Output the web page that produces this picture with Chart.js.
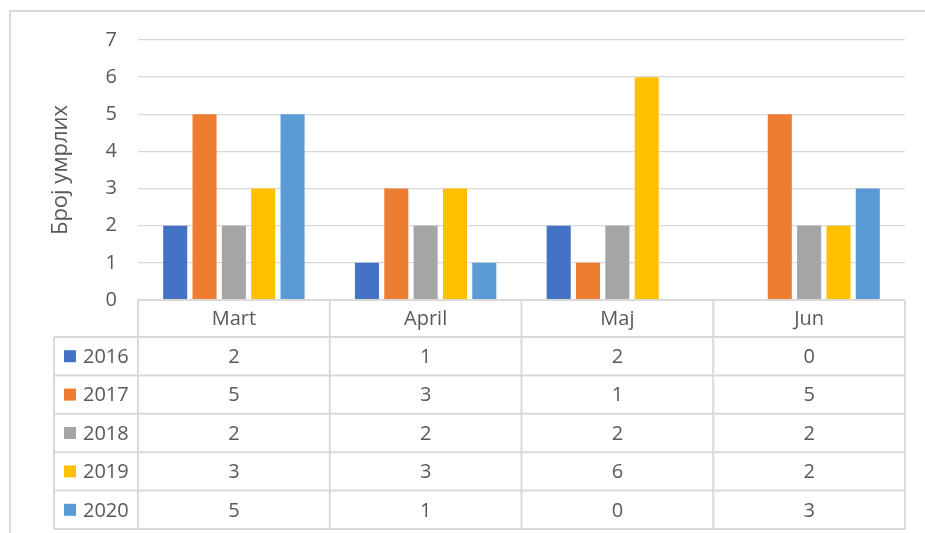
<!DOCTYPE html>
<html>
<head>
<meta charset="utf-8">
<script src="https://cdn.jsdelivr.net/npm/chart.js@4.4.0/dist/chart.umd.min.js"></script>
<style>
  html, body { margin: 0; padding: 0; background: #fff; }
</style>
</head>
<body>
<canvas id="deaths" width="925" height="533"></canvas>
<script>
var months = ["Mart", "April", "Maj", "Jun"];
var years = ["2016", "2017", "2018", "2019", "2020"];
var deaths2016 = [2, 1, 2, 0];
var deaths2017 = [5, 3, 1, 5];
var deaths2018 = [2, 2, 2, 2];
var deaths2019 = [3, 3, 6, 2];
var deaths2020 = [5, 1, 0, 3];
var yearColors = ["#4472C4", "#ED7D31", "#A5A5A5", "#FFC000", "#5B9BD5"];
var yMin = 0, yMax = 7, yStep = 1;
var yTitle = "Број умрлих";

var textColor = "#595959";
var lineColor = "#d9d9d9";
var fontFamily = "'Open Sans', 'Liberation Sans', sans-serif";

var series = [deaths2016, deaths2017, deaths2018, deaths2019, deaths2020];
var datasets = [];
for (let i = 0; i < years.length; i++) {
	datasets.push({
		label: years[i],
		data: series[i],
		backgroundColor: yearColors[i],
		barPercentage: 0.82,
		categoryPercentage: 0.765
	});
}

// outer frame of the excel chart box
var framePlugin = {
	id: 'frame',
	beforeDraw: function(chart) {
		var ctx = chart.ctx;
		ctx.save();
		ctx.strokeStyle = lineColor;
		ctx.lineWidth = 2;
		ctx.beginPath();
		ctx.moveTo(10, chart.height);
		ctx.lineTo(10, 11);
		ctx.lineTo(chart.width, 11);
		ctx.stroke();
		ctx.restore();
	}
};

// data table under the plot, columns follow the x scale
var tablePlugin = {
	id: 'dataTable',
	afterDraw: function(chart) {
		var ctx = chart.ctx;
		var area = chart.chartArea;
		var xScale = chart.scales.x;
		var colW = (area.right - area.left) / months.length;
		var headerH = 37, rowH = 38.4;
		var legendLeft = 54;
		var top = area.bottom;
		var bodyTop = top + headerH;
		var bottom = bodyTop + rowH * years.length;

		ctx.save();
		ctx.strokeStyle = lineColor;
		ctx.lineWidth = 2;
		ctx.beginPath();
		ctx.moveTo(area.left, top);
		ctx.lineTo(area.right, top);
		for (let k = 0; k <= years.length; k++) {
			let y = bodyTop + k * rowH;
			ctx.moveTo(legendLeft, y);
			ctx.lineTo(area.right, y);
		}
		for (let i = 0; i <= months.length; i++) {
			let x = area.left + i * colW;
			ctx.moveTo(x, top);
			ctx.lineTo(x, bottom);
		}
		ctx.moveTo(legendLeft, bodyTop);
		ctx.lineTo(legendLeft, bottom);
		ctx.stroke();

		ctx.font = "20px " + fontFamily;
		ctx.fillStyle = textColor;
		ctx.textAlign = 'center';
		ctx.textBaseline = 'middle';
		for (let i = 0; i < months.length; i++) {
			ctx.fillText(months[i], xScale.getPixelForValue(i), top + headerH / 2 + 1);
		}
		for (let r = 0; r < years.length; r++) {
			let cy = bodyTop + r * rowH + rowH / 2;
			ctx.fillStyle = yearColors[r];
			ctx.fillRect(64, cy - 6, 12, 12);
			ctx.fillStyle = textColor;
			ctx.textAlign = 'left';
			ctx.fillText(years[r], 83, cy + 1);
			ctx.textAlign = 'center';
			let vals = chart.data.datasets[r].data;
			for (let i = 0; i < vals.length; i++) {
				ctx.fillText(String(vals[i]), xScale.getPixelForValue(i), cy + 1);
			}
		}
		ctx.restore();
	}
};

var ctx = document.getElementById('deaths').getContext('2d');
var barChart = new Chart(ctx, {
	type: 'bar',
	data: {
		labels: months,
		datasets: datasets
	},
	options: {
		responsive: false,
		animation: false,
		layout: {
			padding: { left: 48, right: 20, top: 40, bottom: 233 }
		},
		plugins: {
			legend: { display: false },
			tooltip: { enabled: false }
		},
		scales: {
			x: {
				display: false
			},
			y: {
				min: yMin,
				max: yMax,
				border: { display: false },
				grid: { color: lineColor, lineWidth: 1.3, drawTicks: false },
				ticks: {
					stepSize: yStep,
					padding: 21,
					color: textColor,
					font: { family: fontFamily, size: 20 }
				},
				title: {
					display: true,
					text: yTitle,
					color: textColor,
					padding: 0,
					font: { family: fontFamily, size: 22 }
				},
				afterFit: function(scale) {
					scale.width = 90;
				}
			}
		}
	},
	plugins: [framePlugin, tablePlugin]
});
</script>
</body>
</html>
